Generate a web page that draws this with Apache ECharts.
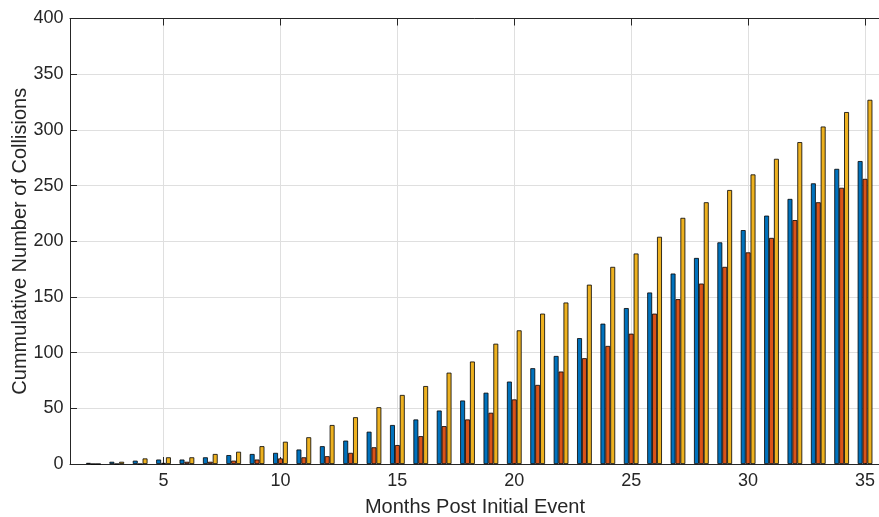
<!DOCTYPE html>
<html><head><meta charset="utf-8">
<script src="https://cdn.jsdelivr.net/npm/echarts@6/dist/echarts.min.js"></script>
<style>html,body{margin:0;padding:0;background:#fff}#c{width:879px;height:517px}</style>
</head><body><div id="c"></div>
<script>
const months = [2,3,4,5,6,7,8,9,10,11,12,13,14,15,16,17,18,19,20,21,22,23,24,25,26,27,28,29,30,31,32,33,34,35];
const seriesBlue = [1,2,3,4,4,6,8,9,10,13,16,21,29,35,40,48,57,64,74,86,97,113,126,140,154,171,185,199,210,223,238,252,265,272];
const seriesRed = [0,0,0,1,2,2,3,4,5,6,7,10,15,17,25,34,40,46,58,71,83,95,106,117,135,148,162,177,190,203,219,235,248,256];
const seriesYellow = [0,2,5,6,6,9,11,16,20,24,35,42,51,62,70,82,92,108,120,135,145,161,177,189,204,221,235,246,260,274,289,303,316,327];
const xTicks = [5,10,15,20,25,30,35];
const yTicks = [0,50,100,150,200,250,300,350,400];

const textColor = '#262626';
const gridColor = '#dfdfdf';
const fontFam = 'Liberation Sans, Arial, sans-serif';
function mk(name, vals, color){
  return {
    name, type:'bar', barWidth:4.9, barGap:'0%',
    data: months.map((m,i)=>[m, vals[i]]),
    itemStyle:{color, borderColor:'#000', borderWidth:0.8},
    emphasis:{disabled:true}, animation:false
  };
}
const xRange = {min:1.0, max:35.64};
const chart = echarts.init(document.getElementById('c'));
chart.setOption({
  animation:false,
  grid:{left:70, top:18.5, width:810, height:445.5, containLabel:false, outerBoundsMode:'none'},
  xAxis:[{
    type:'value', min:xRange.min, max:xRange.max, position:'bottom',
    name:'Months Post Initial Event', nameLocation:'middle', nameGap:33, nameMoveOverlap:false,
    nameTextStyle:{color:textColor, fontSize:20, fontFamily:fontFam},
    axisLine:{show:true, onZero:false, lineStyle:{color:textColor, width:1}},
    axisTick:{show:true, inside:true, length:7, customValues:xTicks, lineStyle:{color:textColor}},
    axisLabel:{color:textColor, fontSize:18, fontFamily:fontFam, margin:8, customValues:xTicks},
    splitLine:{show:true, lineStyle:{color:gridColor, width:1}}
  },{
    type:'value', min:xRange.min, max:xRange.max, position:'top',
    axisLine:{show:true, onZero:false, lineStyle:{color:textColor, width:1}},
    axisTick:{show:true, inside:true, length:7, customValues:xTicks, lineStyle:{color:textColor}},
    axisLabel:{show:false},
    splitLine:{show:false}
  }],
  yAxis:{
    type:'value', min:0, max:400, interval:50,
    name:'Cummulative Number of Collisions', nameLocation:'middle', nameGap:40, nameMoveOverlap:false,
    nameTextStyle:{color:textColor, fontSize:20, fontFamily:fontFam},
    axisLine:{show:true, lineStyle:{color:textColor, width:1}},
    axisTick:{show:true, inside:true, length:7, lineStyle:{color:textColor}},
    axisLabel:{color:textColor, fontSize:18, fontFamily:fontFam, margin:6.5,
      formatter:v => yTicks.includes(v) ? String(v) : ''},
    splitLine:{show:true, lineStyle:{color:gridColor, width:1}}
  },
  series:[
    mk('A', seriesBlue, '#0072BD'),
    mk('B', seriesRed, '#D95319'),
    mk('C', seriesYellow, '#EDB120')
  ]
});
</script></body></html>
